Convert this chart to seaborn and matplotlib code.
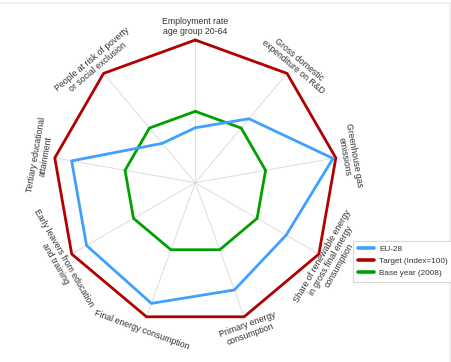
import numpy as np
import pandas as pd
import matplotlib
matplotlib.use("Agg")
import matplotlib.pyplot as plt
from matplotlib.lines import Line2D
import seaborn as sns

categories = [
    "Employment rate\nage group 20-64",
    "Gross domestic\nexpenditure on R&D",
    "Greenhouse gas\nemissions",
    "Share of renewable energy\nin gross final energy\nconsumption",
    "Primary energy\nconsumption",
    "Final energy consumption",
    "Early leavers from education\nand training",
    "Tertiary educational\nattainment",
    "People at risk of poverty\nor social exclusion",
]
eu28 = [38.5, 58.5, 98, 73.5, 80, 90, 88, 88, 36]
target = [100, 100, 100, 100, 100, 100, 100, 100, 100]
base_year = [50, 50, 50, 50, 50, 50, 50, 50, 50]
series_names = ["EU-28", "Target (Index=100)", "Base year (2008)"]
series_values = [eu28, target, base_year]
colors = ["#3FA0FF", "#B00000", "#00A000"]

sns.set_style("white")
plt.rcParams["font.family"] = ["Liberation Sans", "DejaVu Sans"]

W, H = 452, 362
fig = plt.figure(figsize=(W / 100, H / 100), dpi=100)
cx, cy = 195.3, 182.7
rmax = 101
rad_px = 142.7 * rmax / 100
ax = fig.add_axes([(cx - rad_px) / W, 1 - (cy + rad_px) / H, 2 * rad_px / W, 2 * rad_px / H],
                  projection="polar")
ax.set_theta_zero_location("N")
ax.set_theta_direction(-1)

n = len(categories)
theta = np.arange(n) * 2 * np.pi / n
theta_closed = np.append(theta, 2 * np.pi)

# spokes
for t in theta:
    ax.plot([t, t], [0, 100], color="#dddddd", lw=0.7, zorder=1)

rows = []
for name, vals in zip(series_names, series_values):
    v = list(vals) + [vals[0]]
    for t, r in zip(theta_closed, v):
        rows.append({"series": name, "theta": t, "r": r})
df = pd.DataFrame(rows)

order_draw = ["Target (Index=100)", "Base year (2008)", "EU-28"]
cmap = dict(zip(series_names, colors))
for name in order_draw:
    sub = df[df["series"] == name]
    sns.lineplot(data=sub, x="theta", y="r", sort=False, estimator=None,
                 color=cmap[name], lw=2.0, ax=ax, legend=False, zorder=3)
    ax.lines[-1].set_clip_on(False)

ax.set_ylim(0, rmax)
ax.set_xticks([])
ax.set_yticks([])
ax.set_xlabel("")
ax.set_ylabel("")
ax.grid(False)
ax.spines["polar"].set_visible(False)
ax.set_facecolor("none")

for t, lab in zip(theta, categories):
    deg = np.degrees(t)
    if 90 < deg < 270:
        rot = 180 - deg
    else:
        rot = -deg
    ax.text(t, 109.5, lab, rotation=rot, rotation_mode="anchor", ha="center",
            va="center", multialignment="center", fontsize=6.3, color="#333333",
            linespacing=1.1, zorder=2)

handles = [Line2D([0], [0], color=cmap[nm], lw=2.6) for nm in series_names]
leg = fig.legend(handles, series_names, loc="upper left",
                 bbox_to_anchor=(352.7 / W, 1 - 240.7 / H), fontsize=5.9,
                 frameon=True, fancybox=False, handlelength=2.0,
                 handletextpad=0.6, borderpad=0.6, labelspacing=0.5,
                 borderaxespad=0)
leg.get_frame().set_edgecolor("#d0d0d0")
leg.get_frame().set_linewidth(0.8)
for txt in leg.get_texts():
    txt.set_color("#333333")
leg.set_zorder(10)

# faint outer border
fig.add_artist(Line2D([0, 450.5 / W], [1 - 3 / H, 1 - 3 / H], transform=fig.transFigure,
                      color="#ececec", lw=1.2))
fig.add_artist(Line2D([450.5 / W, 450.5 / W], [0, 1 - 3 / H], transform=fig.transFigure,
                      color="#ececec", lw=1.2))

fig.savefig("out.png", dpi=100)
